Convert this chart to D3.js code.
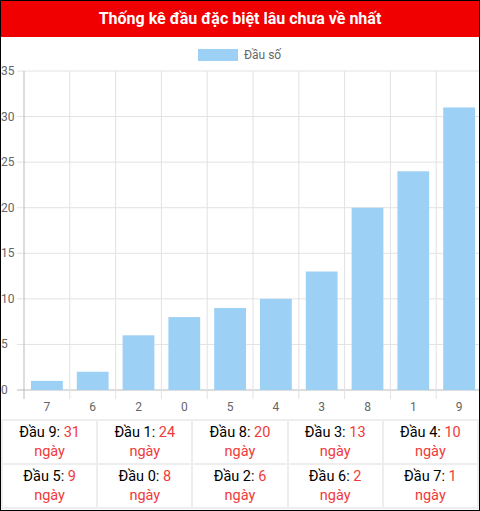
<!DOCTYPE html>
<html><head><meta charset="utf-8">
<script src="https://cdn.jsdelivr.net/npm/d3@7"></script>
<style>
body{margin:0;font-family:Roboto,sans-serif;}
#wrap{width:478px;height:509px;border:1px solid #000;position:relative;overflow:hidden;}
#title{height:36px;background:#f00000;color:#fff;font-weight:bold;font-size:16px;text-align:center;line-height:36px;}
table{border-collapse:collapse;width:478px;position:absolute;top:418px;left:0;}
td{border:2px solid #eee;text-align:center;height:42px;font-size:14.5px;line-height:19px;width:20%;padding:0;}
.r{color:#f03a3a;}
</style></head><body>
<div id="wrap"><div id="title">Thống kê đầu đặc biệt lâu chưa về nhất</div>
<svg id="c" width="478" height="382" style="position:absolute;top:37px;left:0"></svg>
<table id="t"></table></div>
<script>
const categories = ["7","6","2","0","5","4","3","8","1","9"];
const values = [1,2,6,8,9,10,13,20,24,31];
const tableHeads = ["9","1","8","3","4","5","0","2","6","7"];
const tableDays = [31,24,20,13,10,9,8,6,2,1];

const svg = d3.select("#c");
const x = d3.scaleBand().domain(categories).range([23, 481]).paddingInner(0).paddingOuter(0);
const y = d3.scaleLinear().domain([0, 35]).range([352, 33]);
const g = svg.append("g");

// legend
svg.append("rect").attr("x", 197).attr("y", 11).attr("width", 40).attr("height", 12).attr("fill", "#9dd0f5");
svg.append("text").attr("x", 243).attr("y", 21).attr("font-size", 12).attr("fill", "#666").text("Đầu số");

// grid
g.selectAll(".hy").data(y.ticks(7)).enter().append("line")
  .attr("x1", 16).attr("x2", 481).attr("y1", d => y(d)).attr("y2", d => y(d))
  .attr("stroke", d => d === 0 ? "#bbb" : "#e2e2e2");
const xs = categories.map(c => x(c)).concat([x.range()[1]]);
g.selectAll(".vx").data(xs).enter().append("line")
  .attr("x1", d => d).attr("x2", d => d).attr("y1", 33).attr("y2", 361)
  .attr("stroke", (d, i) => i === 0 ? "#bbb" : "#e2e2e2");
g.selectAll(".yl").data(y.ticks(7)).enter().append("text")
  .attr("x", 0).attr("y", d => y(d) + 4).attr("font-size", 12).attr("fill", "#666").text(d => d);
g.selectAll(".xl").data(categories).enter().append("text")
  .attr("x", d => x(d) + x.bandwidth() / 2).attr("y", 373).attr("text-anchor", "middle")
  .attr("font-size", 12).attr("fill", "#666").text(d => d);

// bars
g.selectAll(".b").data(values).enter().append("rect")
  .attr("x", (d, i) => x(categories[i]) + 7).attr("width", x.bandwidth() - 14)
  .attr("y", d => y(d)).attr("height", d => y(0) - y(d)).attr("fill", "#9dd0f5");

// table
const t = d3.select("#t");
for (let r = 0; r < 2; r++) {
  const tr = t.append("tr");
  for (let c = 0; c < 5; c++) {
    const i = r * 5 + c;
    tr.append("td").html(`Đầu ${tableHeads[i]}: <span class="r">${tableDays[i]}</span><br><span class="r">ngày</span>`);
  }
}
</script></body></html>
